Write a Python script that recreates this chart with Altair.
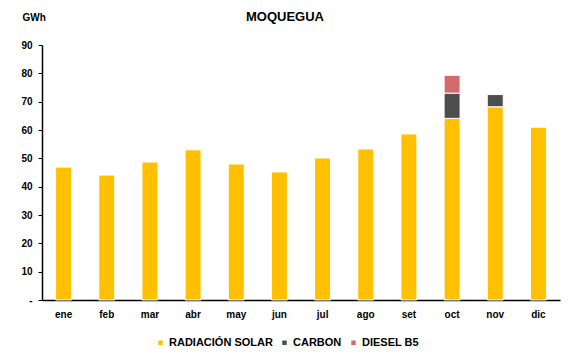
import altair as alt
import pandas as pd

months = ["ene", "feb", "mar", "abr", "may", "jun", "jul", "ago", "set", "oct", "nov", "dic"]
solar = [46.9, 44.1, 48.7, 53.0, 48.0, 45.2, 50.1, 53.3, 58.6, 64.1, 68.2, 61.0]
carbon = [0, 0, 0, 0, 0, 0, 0, 0, 0, 8.9, 4.3, 0]
diesel = [0, 0, 0, 0, 0, 0, 0, 0, 0, 6.3, 0, 0]

series = ["RADIACIÓN SOLAR", "CARBON", "DIESEL B5"]
colors = ["#FFC000", "#4D4D4D", "#D26B6E"]

rows = []
for i, m in enumerate(months):
    for k, (name, vals) in enumerate(zip(series, [solar, carbon, diesel])):
        if vals[i] > 0:
            rows.append({"mes": m, "fuente": name, "valor": vals[i], "orden": k})
df = pd.DataFrame(rows)

FONT = "Arial"

chart = alt.Chart(df).mark_bar(stroke="white", strokeWidth=1).encode(
    x=alt.X("mes:N", sort=months, title=None,
            scale=alt.Scale(paddingInner=0.63, paddingOuter=0.315),
            axis=alt.Axis(labelAngle=0, ticks=False, labelPadding=9, labelFont=FONT,
                          labelFontWeight="bold", labelFontSize=10, labelColor="black",
                          domainColor="black", domainWidth=1.5)),
    y=alt.Y("valor:Q", stack="zero", title="GWh",
            scale=alt.Scale(domain=[0, 90], nice=False),
            axis=alt.Axis(values=list(range(0, 91, 10)), grid=False,
                          labelExpr="datum.value == 0 ? '-' : datum.label",
                          labelFont=FONT, labelFontWeight="bold", labelFontSize=10,
                          labelColor="black", labelPadding=6, tickSize=4,
                          tickColor="black", domainColor="black", domainWidth=1.5,
                          titleAngle=0, titleX=-20, titleY=-28, titleAlign="left",
                          titleBaseline="middle", titleFont=FONT, titleFontSize=10,
                          titleFontWeight="bold", titleColor="black")),
    color=alt.Color("fuente:N", scale=alt.Scale(domain=series, range=colors),
                    legend=alt.Legend(title=None, orient="none", direction="horizontal",
                                      legendX=113, legendY=292, symbolType="square",
                                      symbolSize=20, symbolStrokeWidth=0,
                                      labelFont=FONT, labelFontWeight="bold",
                                      labelFontSize=11, labelColor="black",
                                      columnPadding=6, labelOffset=3)),
    order=alt.Order("orden:Q", sort="ascending"),
).properties(
    width=518, height=255,
    autosize=alt.AutoSizeParams(type="none"),
    padding={"left": 34, "top": 37, "right": 3, "bottom": 53},
    title=alt.TitleParams("MOQUEGUA", font=FONT, fontSize=13, fontWeight="bold",
                          color="black", anchor="middle", dx=-16, offset=-12),
).configure_view(stroke=None)

chart.save("out.html", embed_options={"renderer": "svg", "actions": False})
